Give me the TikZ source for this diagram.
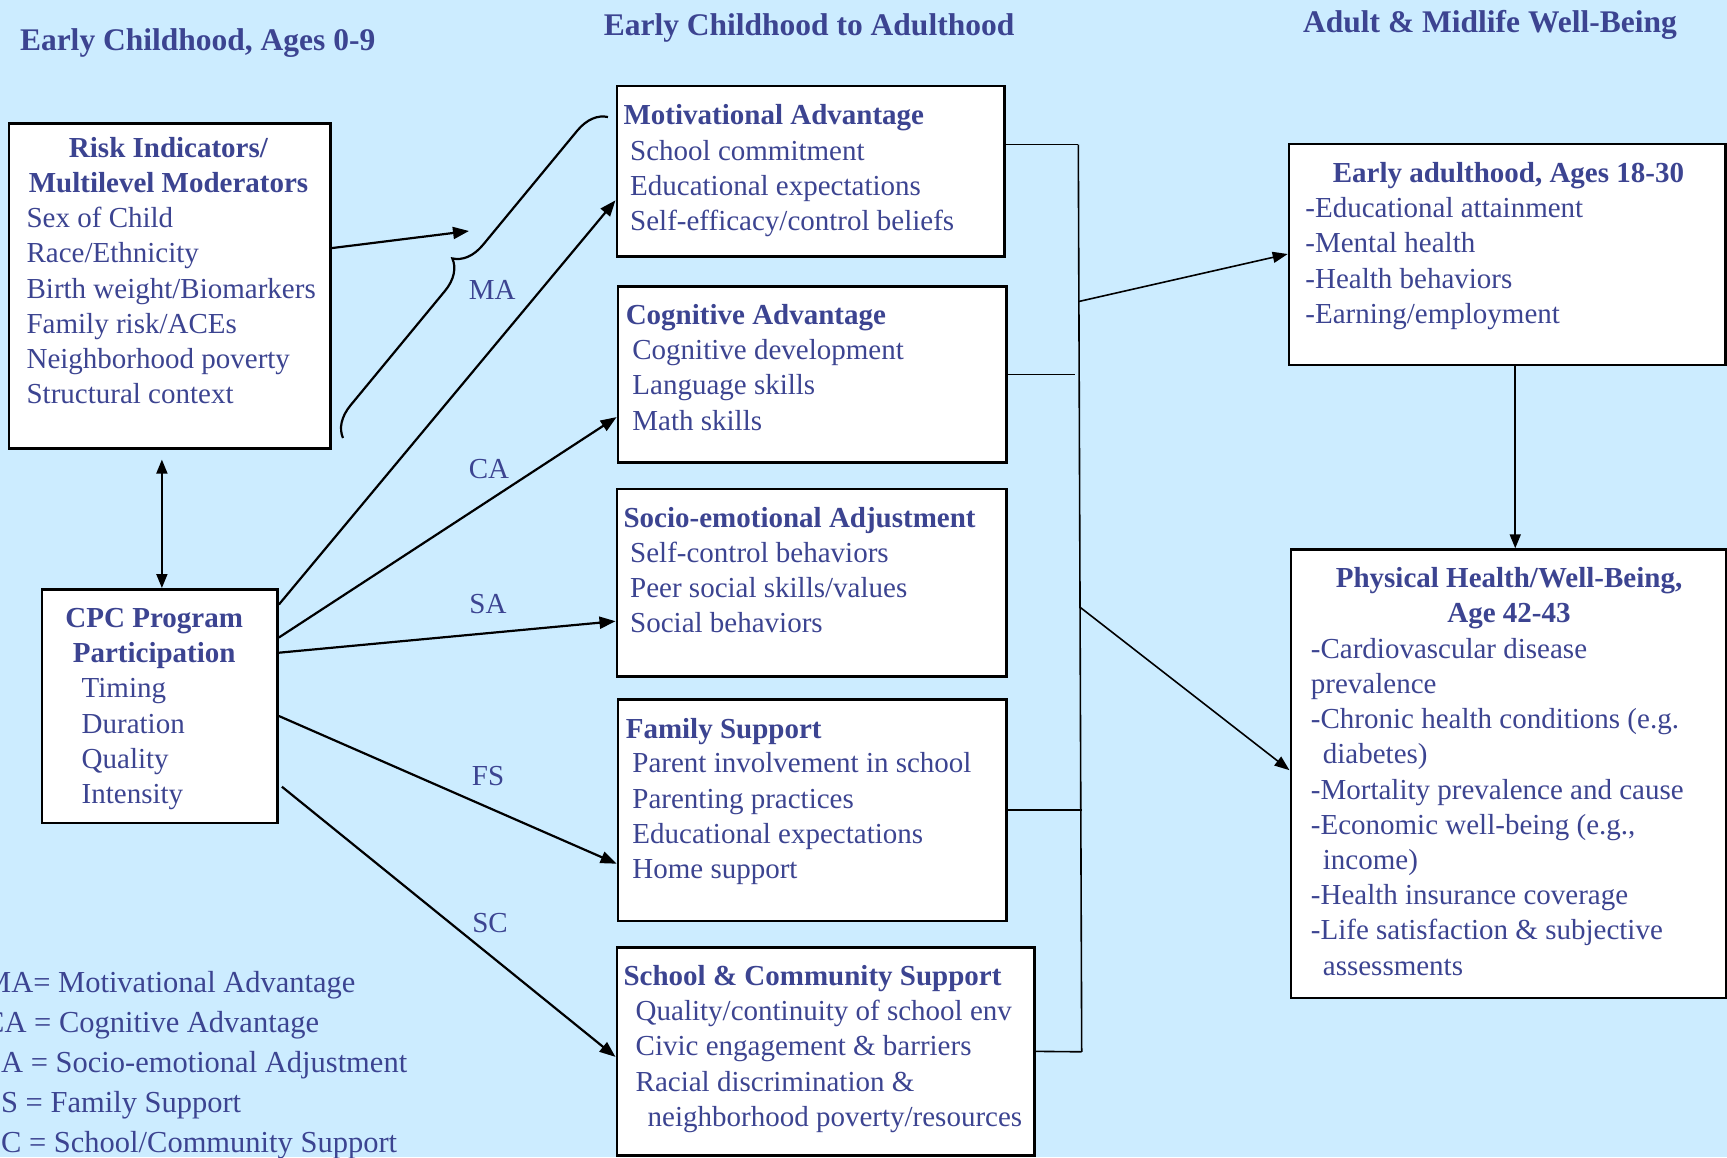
\documentclass[tikz,border=0pt]{standalone}
\usepackage{fontspec}
\setmainfont{Liberation Serif}
\usetikzlibrary{arrows.meta,calc,decorations.pathreplacing}
\definecolor{bgblue}{RGB}{204,236,255}
\definecolor{txtblue}{RGB}{60,68,145}
\tikzset{
  panel/.style={draw=black, fill=white, line width=2.6pt, inner sep=0pt},
  body/.style={font=\fontsize{29}{35.2}\selectfont, text=txtblue, inner sep=0pt, align=left, anchor=base west},
  boxtitle/.style={body, font=\fontsize{29}{35.2}\selectfont\bfseries},
  head/.style={font=\fontsize{31.5}{36}\selectfont\bfseries, text=txtblue, inner sep=0pt, anchor=base west},
  lbl/.style={body, anchor=center},
  link/.style={line width=2.2pt, -{Triangle[length=16pt,width=12pt]}},
  feed/.style={line width=1.6pt},
}

\begin{document}
\begin{tikzpicture}[x=1pt,y=-1pt]
  \useasboundingbox (0,0) rectangle (1727,1157);
  \fill[bgblue] (0,0) rectangle (1727,1157);
  \clip (0,0) rectangle (1727,1157);

  % column headings
  \node[head] (h1) at (19.8,50) {Early Childhood, Ages 0-9};
  \node[head] (h2) at (603.6,35.7) {Early Childhood to Adulthood};
  \node[head] (h3) at (1303,32.4) {Adult \& Midlife Well-Being};

  % early childhood (multi-line texts sit on the baseline of their last line)
  \node[panel, minimum width=321.6pt, minimum height=324.9pt] (risk) at (169.6,285.85) {};
  \node[boxtitle, anchor=base, align=center] (risk-t) at (168.5,192.2) {Risk Indicators/\\Multilevel Moderators};
  \node[body] (risk-l) at (26.4,403.6) {Sex of Child\\Race/Ethnicity\\Birth weight/Biomarkers\\Family risk/ACEs\\Neighborhood poverty\\Structural context};

  \node[panel, minimum width=235.7pt, minimum height=233.5pt] (cpc) at (159.75,706.05) {};
  \node[boxtitle, anchor=base, align=center] (cpc-t) at (154.2,662.6) {CPC Program\\Participation};
  \node[body] (cpc-l) at (81.5,803.5) {Timing\\Duration\\Quality\\Intensity};

  % childhood to adulthood
  \node[panel, minimum width=387.7pt, minimum height=170.7pt] (ma) at (810.65,171.25) {};
  \node[boxtitle] (ma-t) at (623.4,124) {Motivational Advantage};
  \node[body] (ma-l) at (630,230.8) {School commitment\\Educational expectations\\Self-efficacy/control beliefs};

  \node[panel, minimum width=388.8pt, minimum height=176.2pt] (ca) at (812.3,374.5) {};
  \node[boxtitle] (ca-t) at (625.6,324.5) {Cognitive Advantage};
  \node[body] (ca-l) at (632.2,430.1) {Cognitive development\\Language skills\\Math skills};

  \node[panel, minimum width=389.9pt, minimum height=187.3pt] (sa) at (811.75,582.65) {};
  \node[boxtitle] (sa-t) at (623.4,527.2) {Socio-emotional Adjustment};
  \node[body] (sa-l) at (630,632.8) {Self-control behaviors\\Peer social skills/values\\Social behaviors};

  \node[panel, minimum width=388.8pt, minimum height=221.4pt] (fs) at (812.3,810.1) {};
  \node[boxtitle] (fs-t) at (625.6,738.6) {Family Support};
  \node[body] (fs-l) at (632.2,878.4) {Parent involvement in school\\Parenting practices\\Educational expectations\\Home support};

  \node[panel, minimum width=417.4pt, minimum height=208.3pt] (sc) at (825.5,1051.35) {};
  \node[boxtitle] (sc-t) at (623.4,985.3) {School \& Community Support};
  \node[body] (sc-l) at (635.5,1126.2) {Quality/continuity of school env\\Civic engagement \& barriers\\Racial discrimination \&\\\hspace*{12pt}neighborhood poverty/resources};

  % adult and midlife
  \node[panel, minimum width=436.5pt, minimum height=221pt] (ea) at (1507.25,254.5) {};
  \node[boxtitle, anchor=base] (ea-t) at (1508.4,182.4) {Early adulthood, Ages 18-30};
  \node[body] (ea-l) at (1305.2,323.3) {-Educational attainment\\-Mental health\\-Health behaviors\\-Earning/employment};

  \node[panel, minimum width=435.2pt, minimum height=448.4pt] (ph) at (1508.4,773.8) {};
  \node[boxtitle, anchor=base, align=center] (ph-t) at (1509,622.9) {Physical Health/Well-Being,\\Age 42-43};
  \node[body] (ph-l) at (1310.7,975) {-Cardiovascular disease\\prevalence\\-Chronic health conditions (e.g.\\\hspace*{12pt}diabetes)\\-Mortality prevalence and cause\\-Economic well-being (e.g.,\\\hspace*{12pt}income)\\-Health insurance coverage\\-Life satisfaction \& subjective\\\hspace*{12pt}assessments};

  % legend
  \node[body, font=\fontsize{30.5}{40}\selectfont] (key) at (-16,1152.5) {MA= Motivational Advantage\\CA = Cognitive Advantage\\SA = Socio-emotional Adjustment\\FS = Family Support\\SC = School/Community Support};

  % moderators and the brace
  \coordinate (bra) at (343,438);
  \coordinate (brb) at (608,117);
  \coordinate (macusp) at (469,231);
  \draw[line width=2.2pt, decorate, decoration={brace, amplitude=30pt}] (bra) -- (brb);
  \draw[link] ([yshift=-126pt]risk.north east) -- (macusp);
  \draw[link, line width=1.8pt, {Triangle[length=14pt,width=11pt]}-{Triangle[length=14pt,width=11pt]}]
    ([xshift=-7.7pt,yshift=-10pt]risk.south) -- ([xshift=-7.7pt]risk.south |- cpc.north);

  % program paths
  \draw[link] ([yshift=-16.5pt]cpc.north east) -- ([yshift=-115.7pt]ma.north west);
  \draw[link] ([yshift=-49.5pt]cpc.north east) -- ([yshift=-132pt]ca.north west);
  \draw[link] ([yshift=-64.7pt]cpc.north east) -- ([yshift=-133.5pt]sa.north west);
  \draw[link] ([yshift=-128pt]cpc.north east) -- ([yshift=-165.6pt]fs.north west);
  \draw[link] ([xshift=3pt,yshift=-198.7pt]cpc.north east) -- ([yshift=-111pt]sc.north west);

  \node[lbl] (l-ma) at (492.3,289.7) {MA};
  \node[lbl] (l-ca) at (489,469) {CA};
  \node[lbl] (l-sa) at (488,603.6) {SA};
  \node[lbl] (l-fs) at (488,776.5) {FS};
  \node[lbl] (l-sc) at (490,923) {SC};

  % collector
  \coordinate (ctop) at (1078.3,144.5);
  \coordinate (cbot) at (1081.7,1051.8);
  \draw[feed] (ctop) -- (cbot);
  \draw[feed] (ma.east |- ctop) -- (ctop);
  \draw[feed] (ca.east) -- ([xshift=-3pt]ca.east -| ctop);
  \draw[feed] (fs.east) -- (fs.east -| cbot);
  \draw[feed] (sc.east) -- (cbot);
  \draw[feed, -{Triangle[length=15pt,width=11pt]}] ($(ctop)!0.173!(cbot)$) -- ([yshift=-111.3pt]ea.north west);
  \draw[feed, -{Triangle[length=15pt,width=11pt]}] ($(ctop)!0.51!(cbot)$) -- ([yshift=-221.9pt]ph.north west);
  \draw[feed, line width=1.8pt, -{Triangle[length=14pt,width=11pt]}] ([xshift=8pt]ea.south) -- ([xshift=8pt]ea.south |- ph.north);
\end{tikzpicture}
\end{document}
